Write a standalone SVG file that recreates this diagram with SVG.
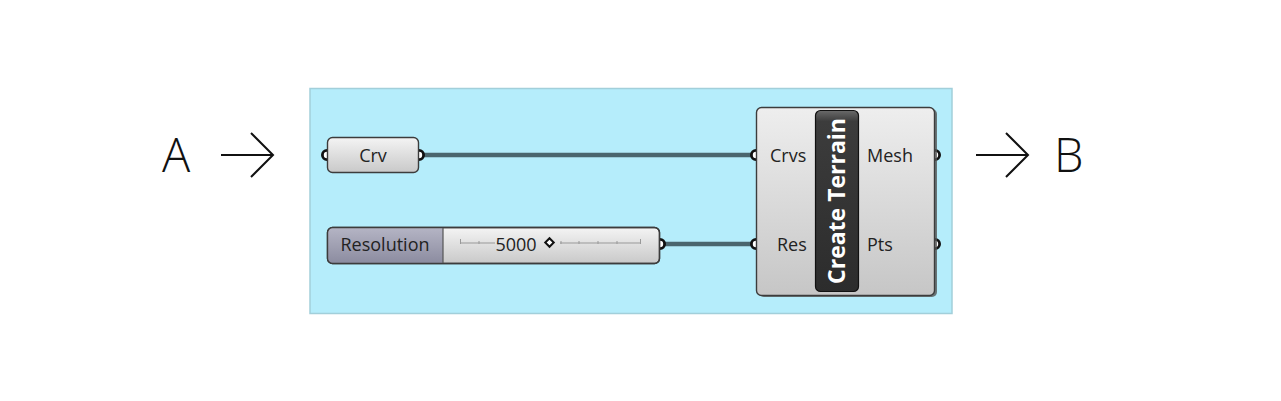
<svg xmlns="http://www.w3.org/2000/svg" width="1281" height="401" viewBox="0 0 1281 401">
<defs>
<linearGradient id="gBody" x1="0" y1="0" x2="0" y2="1">
<stop offset="0" stop-color="#f4f4f4"/><stop offset="0.5" stop-color="#dedede"/><stop offset="1" stop-color="#c9c9c9"/>
</linearGradient>
<linearGradient id="gComp" x1="0" y1="0" x2="0" y2="1">
<stop offset="0" stop-color="#eeeeee"/><stop offset="1" stop-color="#c6c6c6"/>
</linearGradient>
<linearGradient id="gLabel" x1="0" y1="0" x2="0" y2="1">
<stop offset="0" stop-color="#b4b4c4"/><stop offset="1" stop-color="#8c8ca0"/>
</linearGradient>
<linearGradient id="gBar" x1="0" y1="0" x2="0" y2="1">
<stop offset="0" stop-color="#6a6a6a"/><stop offset="0.06" stop-color="#3c3c3c"/><stop offset="1" stop-color="#2c2c2c"/>
</linearGradient>
</defs>
<style>
.big{font-family:"Open Sans","Liberation Sans",sans-serif;font-weight:300;font-size:47px;fill:#111}
.arr{fill:none;stroke:#111;stroke-width:2}
.lbl{font-family:"Open Sans","Noto Sans","Liberation Sans",sans-serif;font-size:18px;fill:#222}
.wire{stroke:#4a666e;stroke-width:4.5;fill:none}
.port{fill:#fff;stroke:#111;stroke-width:2.8}
.edge{stroke:#3c3c3c;stroke-width:1.4}
</style>
<text class="big" x="162" y="172">A</text>
<path class="arr" d="M221 155H273M251 133L273 155L251 177"/>
<path class="arr" d="M976 155H1028M1006 133L1028 155L1006 177"/>
<text class="big" x="1054" y="172">B</text>
<rect x="310" y="88.5" width="642" height="225" fill="#b5edfb" stroke="#a2cfda" stroke-width="1.5"/>
<g id="connectors">
<path class="wire" d="M418 155H756"/>
<path class="wire" d="M659 244H756"/>
</g>
<g id="crv">
<circle class="port" cx="327" cy="155" r="4.6"/>
<circle class="port" cx="419" cy="155" r="4.6"/>
<rect x="327.5" y="137.5" width="91" height="35" rx="5" fill="url(#gBody)" class="edge"/>
<text class="lbl" x="373" y="162" text-anchor="middle">Crv</text>
</g>
<g id="resolution">
<circle class="port" cx="660" cy="244" r="4.6"/>
<rect x="327.5" y="227.5" width="332" height="36" rx="5" fill="url(#gBody)" class="edge"/>
<path d="M443 228V263H332.5A4.5 4.5 0 0 1 328 258.5V232.5A4.5 4.5 0 0 1 332.5 228Z" fill="url(#gLabel)"/>
<rect x="327.5" y="227.5" width="332" height="36" rx="5" fill="none" class="edge"/>
<line x1="443" y1="228" x2="443" y2="263" stroke="#555" stroke-width="1.2"/>
<text class="lbl" x="385" y="251" text-anchor="middle">Resolution</text>
<g stroke="#999" stroke-width="1" fill="none">
<path d="M460 243H495M560 243H641"/>
<path d="M460.5 239V244M479 241V244M579 241V244M598 241V244M617 241V244M640.5 239V244M561 241V244"/>
</g>
<text class="lbl" x="516" y="251" text-anchor="middle">5000</text>
<rect x="546.5" y="239.5" width="6" height="6" transform="rotate(45 549.5 242.5)" fill="#fff" stroke="#111" stroke-width="2"/>
</g>
<g id="terrain">
<circle class="port" cx="756" cy="155" r="4.6"/>
<circle class="port" cx="756" cy="244" r="4.6"/>
<circle class="port" cx="935" cy="155" r="4.6"/>
<circle class="port" cx="935" cy="244" r="4.6"/>
<rect x="759" y="109" width="178" height="188" rx="5" fill="#555" opacity="0.8"/>
<rect x="756.5" y="107.5" width="178" height="188" rx="5" fill="url(#gComp)" class="edge"/>
<rect x="815.5" y="110.5" width="43" height="181" rx="5" fill="url(#gBar)" stroke="#111" stroke-width="1.2"/>
<text class="lbl" x="770" y="162">Crvs</text>
<text class="lbl" x="867" y="162">Mesh</text>
<text class="lbl" x="777" y="251">Res</text>
<text class="lbl" x="867" y="251">Pts</text>
<text x="0" y="0" transform="translate(845 201) rotate(-90)" text-anchor="middle" font-family="'Open Sans','Noto Sans',sans-serif" font-weight="bold" font-size="23" fill="#fff">Create Terrain</text>
</g>
</svg>
